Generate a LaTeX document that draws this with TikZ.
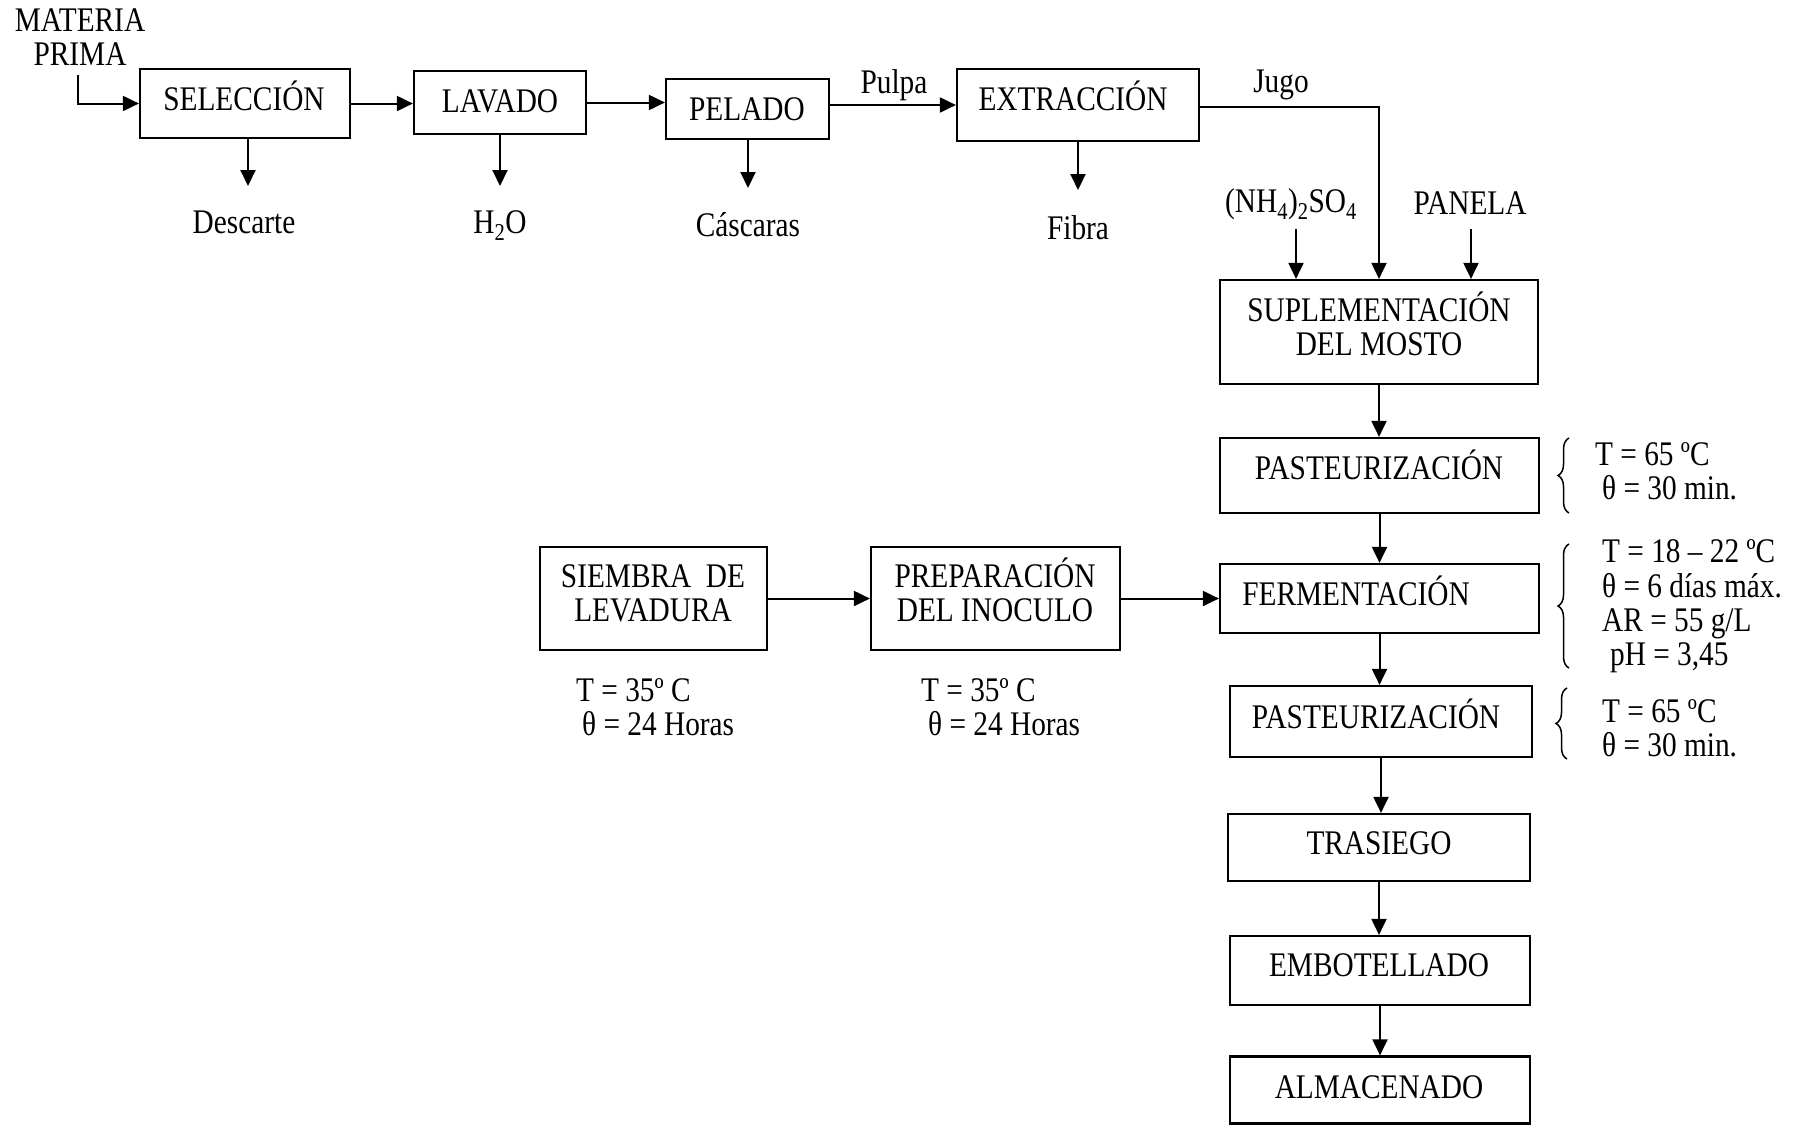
\documentclass[tikz,border=0pt]{standalone}
\usepackage{fontspec}
\setmainfont{Liberation Serif}[FakeStretch=0.85]
\usetikzlibrary{arrows.meta,decorations.pathreplacing}
\begin{document}
\begin{tikzpicture}[x=1pt,y=-1pt,
  every node/.style={font=\fontsize{34.5}{34.5}\selectfont},
  box/.style={draw,line width=2.2pt,inner sep=0pt},
  txt/.style={inner sep=0pt,anchor=base},
  arr/.style={line width=2pt,-{Triangle[length=16pt,width=15pt]}},
  lbl/.style={inner sep=0pt,align=center},
  prm/.style={inner sep=0pt,anchor=base west},
  brc/.style={line width=1.5pt,decorate,decoration={brace,amplitude=11pt}}]
\useasboundingbox (0,0) rectangle (1797,1125);

% top row boxes
\node[box,minimum width=210pt,minimum height=69pt] (sel) at (245,103.5) {};
\node[box,minimum width=172pt,minimum height=63pt] (lav) at (500,102.5) {};
\node[box,minimum width=163pt,minimum height=60pt] (pel) at (747.5,109) {};
\node[box,minimum width=242pt,minimum height=72pt] (ext) at (1078,105) {};
\node[txt] (tsel) at (244,110) {SELECCIÓN};
\node[txt] (tlav) at (500,112) {LAVADO};
\node[txt] (tpel) at (747,120) {PELADO};
\node[txt] (text) at (1073,110) {EXTRACCIÓN};

\node[lbl] (mpt) at (80,37) {MATERIA\\PRIMA};
\node[txt] (desc) at (244,233) {Descarte};
\node[txt] (agua) at (500,233) {H\textsubscript{2}O};
\node[txt] (casc) at (748,236) {Cáscaras};
\node[txt] (fib) at (1078,239) {Fibra};
\node[txt] (pulpa) at (894,93) {Pulpa};
\node[txt] (jugo) at (1281,92) {Jugo};
\node[txt] (nh4) at (1291,212) {(NH\textsubscript{4})\textsubscript{2}SO\textsubscript{4}};
\node[txt] (pan) at (1470,214) {PANELA};

% right column boxes
\node[box,minimum width=318pt,minimum height=104pt] (sup) at (1379,332) {};
\node[box,minimum width=319pt,minimum height=75pt] (pas1) at (1379.5,475.5) {};
\node[box,minimum width=319pt,minimum height=69pt] (fer) at (1379.5,598.5) {};
\node[box,minimum width=302pt,minimum height=71pt] (pas2) at (1381,721.5) {};
\node[box,minimum width=302pt,minimum height=67pt] (tra) at (1379,847.5) {};
\node[box,minimum width=300pt,minimum height=69pt] (emb) at (1380,970.5) {};
\node[box,minimum width=300pt,minimum height=67pt] (alm) at (1380,1090) {};
\node[txt] (tsup1) at (1379,321) {SUPLEMENTACIÓN};
\node[txt] (tsup2) at (1379,355) {DEL MOSTO};
\node[txt] (tpas1) at (1379,479) {PASTEURIZACIÓN};
\node[txt] (tfer) at (1356,605) {FERMENTACIÓN};
\node[txt] (tpas2) at (1376,728) {PASTEURIZACIÓN};
\node[txt] (ttra) at (1379,854) {TRASIEGO};
\node[txt] (temb) at (1379,976) {EMBOTELLADO};
\node[txt] (talm) at (1379,1098) {ALMACENADO};

% middle row boxes
\node[box,minimum width=227pt,minimum height=103pt] (sie) at (653.5,598.5) {};
\node[box,minimum width=249pt,minimum height=103pt] (pre) at (995.5,598.5) {};
\node[txt] (tsie1) at (653,587) {SIEMBRA\ \ DE};
\node[txt] (tsie2) at (653,621) {LEVADURA};
\node[txt] (tpre1) at (995,587) {PREPARACIÓN};
\node[txt] (tpre2) at (995,621) {DEL INOCULO};

% parameters
\node[prm] (s1) at (576,701) {T = 35º C};
\node[prm] (s2) at (582,735) {θ = 24 Horas};
\node[prm] (p1) at (921,701) {T = 35º C};
\node[prm] (p2) at (928,735) {θ = 24 Horas};

\node[prm] (a1) at (1595,465) {T = 65 ºC};
\node[prm] (a2) at (1602,499) {θ = 30 min.};
\node[prm] (f1) at (1602,562) {T = 18 – 22 ºC};
\node[prm] (f2) at (1602,597) {θ = 6 días máx.};
\node[prm] (f3) at (1602,631) {AR = 55 g/L};
\node[prm] (f4) at (1610,665) {pH = 3,45};
\node[prm] (b1) at (1602,722) {T = 65 ºC};
\node[prm] (b2) at (1602,756) {θ = 30 min.};

% braces
\coordinate (br1a) at (1569,513); \coordinate (br1b) at (1569,438);
\coordinate (br2a) at (1569,668); \coordinate (br2b) at (1569,544);
\coordinate (br3a) at (1567,759); \coordinate (br3b) at (1567,688);
\draw[brc] (br1a) -- (br1b);
\draw[brc] (br2a) -- (br2b);
\draw[brc] (br3a) -- (br3b);

% coordinates for free ends
\coordinate (mp) at (78,75);
\coordinate (e1) at (248,186);
\coordinate (e2) at (500,186);
\coordinate (e3) at (748,188);
\coordinate (e4) at (1078,190);
\coordinate (nh) at (1296,229);
\coordinate (pn) at (1471,229);

% connectors
\draw[arr] (mp) |- (sel.west);
\draw[arr] (sel.east) -- (sel.east -| lav.west);
\draw[arr] (lav.east) -- (lav.east -| pel.west);
\draw[arr] (pel.east |- ext.west) -- (ext.west);
\draw[arr] (sel.south -| e1) -- (e1);
\draw[arr] (lav.south) -- (e2);
\draw[arr] (pel.south -| e3) -- (e3);
\draw[arr] (ext.south) -- (e4);
\draw[arr] ([yshift=-2pt]ext.east) -| (sup.north);
\draw[arr] (nh) -- (nh |- sup.north);
\draw[arr] (pn) -- (pn |- sup.north);
\draw[arr] (sup.south) -- (sup.south |- pas1.north);
\draw[arr] (pas1.south) -- (pas1.south |- fer.north);
\draw[arr] (fer.south) -- (fer.south |- pas2.north);
\draw[arr] (pas2.south) -- (pas2.south |- tra.north);
\draw[arr] (tra.south) -- (tra.south |- emb.north);
\draw[arr] (emb.south) -- (emb.south |- alm.north);
\draw[arr] (sie.east) -- (pre.west);
\draw[arr] (pre.east) -- (fer.west);
\end{tikzpicture}
\end{document}
